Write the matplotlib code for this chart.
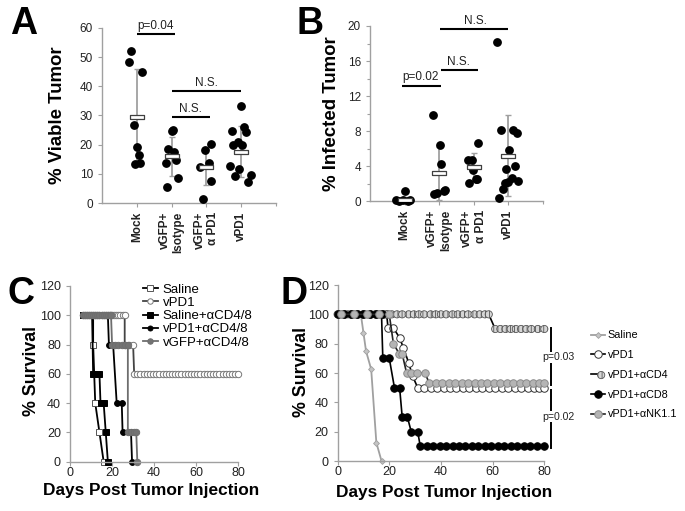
import matplotlib
matplotlib.use('Agg')
import matplotlib.pyplot as plt
from matplotlib.legend_handler import HandlerTuple
import numpy as np

plt.rcParams['font.family'] = ['Liberation Sans', 'DejaVu Sans']
plt.rcParams['hatch.linewidth'] = 0.6

# ------------------------- DATA -------------------------
ab_categories = ['Mock', 'vGFP+\nIsotype', 'vGFP+\nα PD1', 'vPD1']

# Panel A: % viable tumor (values and horizontal jitter)
a_mock = [52.0, 48.4, 44.9, 26.8, 19.3, 16.5, 13.3, 13.8]
a_mock_dx = [-0.16, -0.21, 0.15, -0.09, 0.0, 0.07, -0.04, 0.10]
a_iso = [24.8, 25.1, 18.5, 17.4, 13.6, 14.9, 8.6, 5.5]
a_iso_dx = [0.0, 0.04, -0.10, 0.08, -0.17, 0.13, 0.17, -0.13]
a_apd1 = [20.2, 18.3, 12.2, 13.6, 7.5, 1.4]
a_apd1_dx = [0.12, -0.04, -0.17, 0.07, 0.14, -0.11]
a_vpd1 = [33.3, 24.8, 26.1, 24.5, 19.9, 21.0, 19.9, 12.6, 11.7, 9.4, 9.7, 7.2]
a_vpd1_dx = [-0.02, -0.26, 0.08, 0.14, -0.24, -0.10, 0.03, -0.33, -0.05, -0.17, 0.27, 0.19]
a_means = [29.5, 16.0, 12.3, 17.6]
a_sds = [16.5, 6.6, 6.2, 8.8]
a_ticks = [0, 10, 20, 30, 40, 50, 60]

# Panel B: % infected tumor
b_mock = [0.1, 0.05, 0.15, 1.2, 0.05, 0.1]
b_mock_dx = [-0.24, -0.15, -0.05, 0.0, 0.10, 0.17]
b_iso = [9.9, 6.4, 4.3, 0.8, 1.0, 1.2, 1.3]
b_iso_dx = [-0.19, 0.02, 0.05, -0.15, -0.07, 0.13, 0.16]
b_apd1 = [4.7, 4.7, 6.6, 3.6, 2.1, 2.5, 2.6]
b_apd1_dx = [-0.17, -0.05, 0.13, -0.03, -0.13, 0.05, 0.08]
b_vpd1 = [18.2, 8.1, 8.1, 7.8, 5.8, 3.7, 4.0, 2.7, 2.1, 2.2, 2.3, 1.4, 0.4]
b_vpd1_dx = [-0.32, -0.21, 0.12, 0.24, 0.02, -0.08, 0.18, 0.09, -0.11, -0.02, 0.29, -0.17, -0.27]
b_means = [0.2, 3.2, 3.9, 5.2]
b_sds = [0.3, 3.0, 1.6, 4.6]
b_ticks = [0, 4, 8, 12, 16, 20]

# Panel C: survival
c_saline_days = [6, 7, 8, 9, 10, 11, 11, 11.5, 12, 14, 16]
c_saline_surv = [100, 100, 100, 100, 100, 100, 80, 60, 40, 20, 0]
c_vpd1_days = [6, 7, 8, 9, 10, 11, 12, 13, 14, 15, 16, 17, 18, 19, 20, 21, 22, 23, 24, 25, 26,
               26, 28, 30,
               30.5, 32, 33.5, 35, 36.5, 38, 39.5, 41, 42.5, 44, 45.5, 47, 48.5, 50, 51.5, 53,
               54.5, 56, 57.5, 59, 60.5, 62, 63.5, 65, 66.5, 68, 69.5, 71, 72.5, 74, 75.5, 77, 78.5, 80]
c_vpd1_surv = [100] * 21 + [80, 80, 80] + [60] * 34
c_salcd48_days = [6, 7, 8, 9, 10, 10.5, 11, 14, 14.5, 16, 17, 18]
c_salcd48_surv = [100, 100, 100, 100, 100, 100, 60, 60, 40, 40, 20, 0]
c_vpd1cd48_days = [6, 7, 8, 9, 10, 11, 12, 13, 14, 15, 16, 17, 18, 18.5, 20.5, 22.2, 24.6, 25, 29, 29.5]
c_vpd1cd48_surv = [100] * 13 + [80, 80, 40, 40, 20, 20, 0]
c_vgfpcd48_days = [6, 7, 8, 9, 10, 11, 12, 13, 14, 15, 16, 17, 18, 19, 19.5,
                   20, 21.5, 23, 24.5, 26, 27.5, 27.5, 29, 30.5, 31.5, 32]
c_vgfpcd48_surv = [100] * 15 + [80] * 6 + [20, 20, 20, 20, 0]
c_labels = ['Saline', 'vPD1', 'Saline+αCD4/8', 'vPD1+αCD4/8', 'vGFP+αCD4/8']

# Panel D: survival
d_saline_days = [0, 2.5, 5, 7.5, 9, 10, 11, 13, 15, 17]
d_saline_surv = [100, 100, 100, 100, 100, 87.5, 75, 62.5, 12.5, 0]
d_vpd1_days = [0, 2.5, 5, 7.5, 10, 12.5, 15, 17.5, 19, 19.5, 21.5, 24, 25.5, 27.5, 29, 31,
               33.5, 36, 38.5, 41, 43.5, 46, 48.5, 51, 53.5, 56, 58.5, 61, 63.5, 66, 68.5,
               71, 73.5, 76, 78, 80]
d_vpd1_surv = [100] * 9 + [91, 91, 84, 77, 67, 58, 50] + [50] * 20
d_cd4_days = [0, 2, 4, 6, 8, 10.5, 12.5, 14.5, 16.5, 19, 21, 23, 25, 27.5, 29.5, 31.5, 33.5,
              36, 38, 40, 42, 44.5, 46.5, 48.5, 50.5, 53, 55, 57, 58.5,
              61, 63, 65, 67, 69, 71, 73, 75, 77.5, 80]
d_cd4_surv = [100] * 29 + [90] * 10
d_cd8_days = [0, 2.5, 5, 7.5, 10, 12.5, 15, 17, 17.5, 20, 22, 24, 25, 27, 28.5, 31,
              32, 34.5, 37, 39.5, 42, 44.5, 47, 49.5, 52, 54.5, 57, 59.5, 62, 64.5, 67,
              69.5, 72, 74.5, 77, 80]
d_cd8_surv = [100] * 8 + [70, 70, 50, 50, 30, 30, 20, 20] + [10] * 20
d_nk_days = [1.2, 6.2, 11.2, 16.2, 20, 21.6, 23.9, 25, 26.7, 28.6, 30.6, 33.8,
             35.5, 38, 40.5, 43, 45.5, 48, 50.5, 53, 55.5, 58, 60.5, 63, 65.5, 68, 70.5,
             73, 75.5, 78, 80]
d_nk_surv = [100] * 5 + [80, 73, 73, 60, 60, 60, 60] + [53] * 19
d_labels = ['Saline', 'vPD1', 'vPD1+αCD4', 'vPD1+αCD8', 'vPD1+αNK1.1']
cd_ticks_y = [0, 20, 40, 60, 80, 100, 120]
cd_ticks_x = [0, 20, 40, 60, 80]

# ------------------------- FIGURE -------------------------
W, H = 685, 511
fig = plt.figure(figsize=(W / 100, H / 100), dpi=100)


def add_axes_px(left, top, right, bottom):
    return fig.add_axes([left / W, 1 - bottom / H, (right - left) / W, (bottom - top) / H])


SPINE = '#a0a0a0'


def style(ax, labelsize):
    for s in ['top', 'right']:
        ax.spines[s].set_visible(False)
    for s in ['left', 'bottom']:
        ax.spines[s].set_color(SPINE)
        ax.spines[s].set_linewidth(1.0)
    ax.tick_params(which='both', colors=SPINE, labelcolor='#222222', direction='out',
                   width=0.8, labelsize=labelsize)
    ax.tick_params(which='major', length=3)
    ax.tick_params(which='minor', length=2)


mean_marker = [(-1, -0.22), (1, -0.22), (1, 0.22), (-1, 0.22), (-1, -0.22)]


def dot_panel(ax, groups, dxs, means, sds):
    for i, (vals, dx) in enumerate(zip(groups, dxs)):
        xc = i + 1
        ax.errorbar([xc], [means[i]], yerr=[sds[i]], color='#a0a0a0', capsize=2,
                    elinewidth=1.3, capthick=1.0, zorder=2, fmt='none')
        ax.plot(xc + np.array(dx), vals, 'o', color='black', ms=5.3, zorder=3, clip_on=False)
        ax.plot([xc], [means[i]], marker=mean_marker, ms=10.5, mfc='white', mec='#404040',
                mew=0.9, ls='none', zorder=4)
    ax.set_xlim(0, 5)
    ax.set_xticks([1, 2, 3, 4])
    ax.set_xticks([5], minor=True)
    ax.set_xticklabels(ab_categories, rotation=90, fontsize=8.5, fontweight='bold',
                       ha='center', va='top')
    for t in ax.get_xticklabels():
        t.set_multialignment('right')
    ax.tick_params(axis='x', pad=3)


def sig(ax, x0, x1, y, label, xt, fs=8.5):
    ax.plot([x0, x1], [y, y], color='black', lw=1.5, clip_on=False, solid_capstyle='butt')
    ax.text(xt, y + 0.012 * (ax.get_ylim()[1] - ax.get_ylim()[0]), label, ha='center',
            va='bottom', fontsize=fs, color='#222222', clip_on=False)


# ---- Panel A ----
axA = add_axes_px(102, 28, 276, 203)
style(axA, 8.5)
dot_panel(axA, [a_mock, a_iso, a_apd1, a_vpd1], [a_mock_dx, a_iso_dx, a_apd1_dx, a_vpd1_dx],
          a_means, a_sds)
axA.set_ylim(0, 60)
axA.set_yticks(a_ticks)
sig(axA, 1.0, 2.1, 57.9, 'p=0.04', 1.55)
sig(axA, 2.0, 4.0, 38.5, 'N.S.', 3.0)
sig(axA, 2.0, 3.1, 29.6, 'N.S.', 2.55)
fig.text(57 / W, 1 - 115 / H, '% Viable Tumor', rotation=90, ha='center', va='center',
         fontsize=13.4, fontweight='bold')

# ---- Panel B ----
axB = add_axes_px(370, 26, 543, 201.3)
style(axB, 8.5)
dot_panel(axB, [b_mock, b_iso, b_apd1, b_vpd1], [b_mock_dx, b_iso_dx, b_apd1_dx, b_vpd1_dx],
          b_means, b_sds)
axB.set_ylim(0, 20)
axB.set_yticks(b_ticks)
axB.set_yticks([2, 6, 10, 14, 18], minor=True)
sig(axB, 0.92, 2.05, 13.2, 'p=0.02', 1.47)
sig(axB, 2.05, 3.13, 15.0, 'N.S.', 2.55)
sig(axB, 2.03, 4.0, 19.65, 'N.S.', 3.05)
fig.text(331 / W, 1 - 114 / H, '% Infected Tumor', rotation=90, ha='center', va='center',
         fontsize=13.4, fontweight='bold')

# ---- Panel C ----
axC = add_axes_px(70, 286, 238.3, 461.7)
style(axC, 9)
axC.tick_params(axis='x', pad=0.6)
hC = []
hC.append(axC.plot(c_saline_days, c_saline_surv, '-', color='black', lw=1.3, marker='s', ms=4.6,
                   mfc='white', mec='#555555', mew=0.7, clip_on=False)[0])
hC.append(axC.plot(c_vpd1_days, c_vpd1_surv, '-', color='#444444', lw=1.3, marker='o', ms=4.6,
                   mfc='white', mec='#777777', mew=0.7, clip_on=False)[0])
hC.append(axC.plot(c_salcd48_days, c_salcd48_surv, '-', color='black', lw=1.3, marker='s', ms=4.8,
                   mfc='black', mec='black', mew=0.7, clip_on=False)[0])
hC.append(axC.plot(c_vpd1cd48_days, c_vpd1cd48_surv, '-', color='black', lw=1.3, marker='o',
                   ms=4.2, mfc='black', mec='black', mew=0.7, clip_on=False)[0])
hC.append(axC.plot(c_vgfpcd48_days, c_vgfpcd48_surv, '-', color='#6e6e6e', lw=1.3, marker='o',
                   ms=4.6, mfc='#737373', mec='#6e6e6e', mew=0.7, clip_on=False)[0])
axC.set_xlim(0, 80)
axC.set_ylim(0, 120)
axC.set_xticks(cd_ticks_x)
axC.set_yticks(cd_ticks_y)
axC.legend(hC, c_labels, loc='upper left', bbox_to_anchor=(0.434, 1.015), frameon=False,
           fontsize=9.5, handlelength=1.1, handletextpad=0.4, labelspacing=0.08,
           borderpad=0, borderaxespad=0, markerscale=0.85)
fig.text(31 / W, 1 - 371 / H, '% Survival', rotation=90, ha='center', va='center',
         fontsize=12.8, fontweight='bold')
fig.text(151 / W, 1 - 490 / H, 'Days Post Tumor Injection', ha='center', va='center',
         fontsize=12.4, fontweight='bold')

# ---- Panel D ----
axD = add_axes_px(337.6, 285, 544.3, 461)
style(axD, 9)
axD.tick_params(axis='x', pad=0.6)
l_sal = axD.plot(d_saline_days, d_saline_surv, '-', color='#a0a0a0', lw=1.3, marker='D', ms=3.0,
                 mfc='#c4c4c4', mec='#a0a0a0', mew=0.6, clip_on=False)[0]
l_vpd1 = axD.plot(d_vpd1_days, d_vpd1_surv, '-', color='black', lw=1.2, marker='o', ms=5.4,
                  mfc='white', mec='#333333', mew=0.7, clip_on=False)[0]
l_cd4 = axD.plot(d_cd4_days, d_cd4_surv, '-', color='black', lw=1.2, clip_on=False)[0]
s_cd4 = axD.scatter(d_cd4_days, d_cd4_surv, s=27, facecolor='#d6d6d6', edgecolor='#555555',
                    linewidths=0.6, hatch='||||', zorder=3, clip_on=False)
l_cd8 = axD.plot(d_cd8_days, d_cd8_surv, '-', color='black', lw=1.2, marker='o', ms=5.4,
                 mfc='black', mec='black', mew=0.7, clip_on=False, zorder=4)[0]
l_nk = axD.plot(d_nk_days, d_nk_surv, '-', color='#222222', lw=1.2, marker='o', ms=5.4,
                mfc='#b4b4b4', mec='#8a8a8a', mew=0.7, clip_on=False, zorder=4)[0]
axD.set_xlim(0, 80)
axD.set_ylim(0, 120)
axD.set_xticks(cd_ticks_x)
axD.set_yticks(cd_ticks_y)
axD.legend([l_sal, l_vpd1, (l_cd4, s_cd4), l_cd8, l_nk], d_labels, loc='upper left',
           bbox_to_anchor=(1.224, 0.742), frameon=False, fontsize=7.8, handlelength=1.3,
           handletextpad=0.3, labelspacing=0.9, borderpad=0, borderaxespad=0,
           scatterpoints=1, handler_map={tuple: HandlerTuple(ndivide=None, pad=0)})
# p-value brackets
axD.plot([82.6, 82.6], [90.5, 52], color='black', lw=1.4, clip_on=False)
axD.plot([82.6, 82.6], [48.5, 9], color='black', lw=1.4, clip_on=False)
axD.text(85.6, 70.7, 'p=0.03', ha='center', va='center', fontsize=7.6, color='#222222',
         clip_on=False, bbox=dict(facecolor='white', edgecolor='none', pad=0.5))
axD.text(85.6, 30.2, 'p=0.02', ha='center', va='center', fontsize=7.6, color='#222222',
         clip_on=False, bbox=dict(facecolor='white', edgecolor='none', pad=0.5))
fig.text(301 / W, 1 - 372 / H, '% Survival', rotation=90, ha='center', va='center',
         fontsize=12.8, fontweight='bold')
fig.text(444 / W, 1 - 492 / H, 'Days Post Tumor Injection', ha='center', va='center',
         fontsize=12.4, fontweight='bold')

# ---- Panel letters ----
for letter, (x, y) in {'A': (24, 24), 'B': (310, 24), 'C': (21, 294), 'D': (294.5, 294)}.items():
    fig.text(x / W, 1 - y / H, letter, ha='center', va='center', fontsize=27, fontweight='bold')

fig.savefig('out.png', dpi=100)
